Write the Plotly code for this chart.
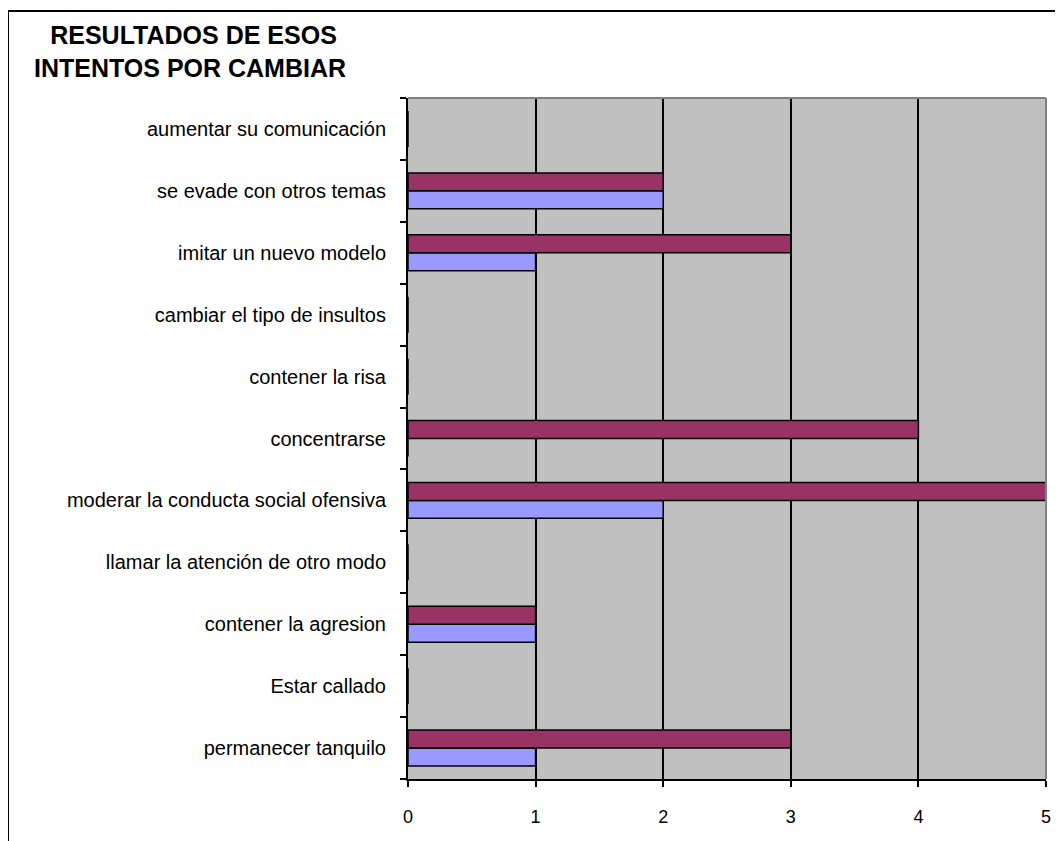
import plotly.graph_objects as go

# categories listed bottom to top, as the axis draws them
categorias = [
    "permanecer tanquilo",
    "Estar callado",
    "contener la agresion",
    "llamar la atención de otro modo",
    "moderar la conducta social ofensiva",
    "concentrarse",
    "contener la risa",
    "cambiar el tipo de insultos",
    "imitar un nuevo modelo",
    "se evade con otros temas",
    "aumentar su comunicación",
]
serie_azul = [1, 0, 1, 0, 2, 0, 0, 0, 1, 2, 0]
serie_granate = [3, 0, 1, 0, 5, 4, 0, 0, 3, 2, 0]
x_ticks = [0, 1, 2, 3, 4, 5]

# the page puts the figure 8px in from the corner, so work in page pixels
OFF = 8
W, H = 1063 - OFF, 841 - OFF
PL, PR, PT, PB = 408, 1046, 98, 779   # plot area in page pixels
ML, MR, MT, MB = PL - OFF, W - (PR - OFF), PT - OFF, H - (PB - OFF)
pw, ph = W - ML - MR, H - MT - MB


def px_x(p):
    return (p - OFF - ML) / pw


def px_y(p):
    return 1 - (p - OFF - MT) / ph


FONT = "Arial, Liberation Sans, sans-serif"

fig = go.Figure()
fig.add_trace(go.Bar(
    y=categorias, x=serie_azul, orientation="h", name="Serie 1",
    marker=dict(color="#9999FF", line=dict(color="#000000", width=1.5)),
))
fig.add_trace(go.Bar(
    y=categorias, x=serie_granate, orientation="h", name="Serie 2",
    marker=dict(color="#993366", line=dict(color="#000000", width=1.5)),
))

fig.update_layout(
    width=W, height=H,
    margin=dict(l=ML, r=MR, t=MT, b=MB, pad=0),
    paper_bgcolor="white", plot_bgcolor="#C0C0C0",
    barmode="group", bargap=0.42, bargroupgap=0,
    showlegend=False,
    font=dict(family=FONT, size=18, color="black"),
    xaxis=dict(
        range=[0, 5], tickvals=x_ticks, showgrid=True, gridcolor="black", gridwidth=2,
        zeroline=False, showline=True, linecolor="black", linewidth=2,
        ticks="outside", ticklen=6, tickwidth=1.5, tickcolor="black",
        tickfont=dict(size=18), ticklabelstandoff=14, fixedrange=True,
    ),
    yaxis=dict(
        categoryorder="array", categoryarray=categorias, tickson="boundaries",
        showgrid=False, zeroline=False, showline=True, linecolor="black", linewidth=2,
        ticks="outside", ticklen=6, tickwidth=1.5, tickcolor="black",
        tickfont=dict(size=20), ticklabelstandoff=16, fixedrange=True,
    ),
    annotations=[dict(
        text=" RESULTADOS DE ESOS<br>INTENTOS POR CAMBIAR",
        xref="paper", yref="paper", x=px_x(190), y=px_y(19),
        xanchor="center", yanchor="top", align="center", showarrow=False,
        font=dict(family=FONT, size=25, color="black", weight="bold"),
    )],
    shapes=[
        # plot-area top and right edges in grey
        dict(type="line", xref="paper", yref="paper", x0=0, x1=1, y0=1, y1=1,
             line=dict(color="#808080", width=2)),
        dict(type="line", xref="paper", yref="paper", x0=1, x1=1, y0=0, y1=1,
             line=dict(color="#808080", width=2)),
        # outer chart border (top and left visible)
        dict(type="line", xref="paper", yref="paper", x0=px_x(8), x1=px_x(1100),
             y0=px_y(11), y1=px_y(11), line=dict(color="black", width=2)),
        dict(type="line", xref="paper", yref="paper", x0=px_x(8), x1=px_x(8),
             y0=px_y(11), y1=px_y(900), line=dict(color="black", width=2)),
    ],
)

fig.write_html("out.html")
